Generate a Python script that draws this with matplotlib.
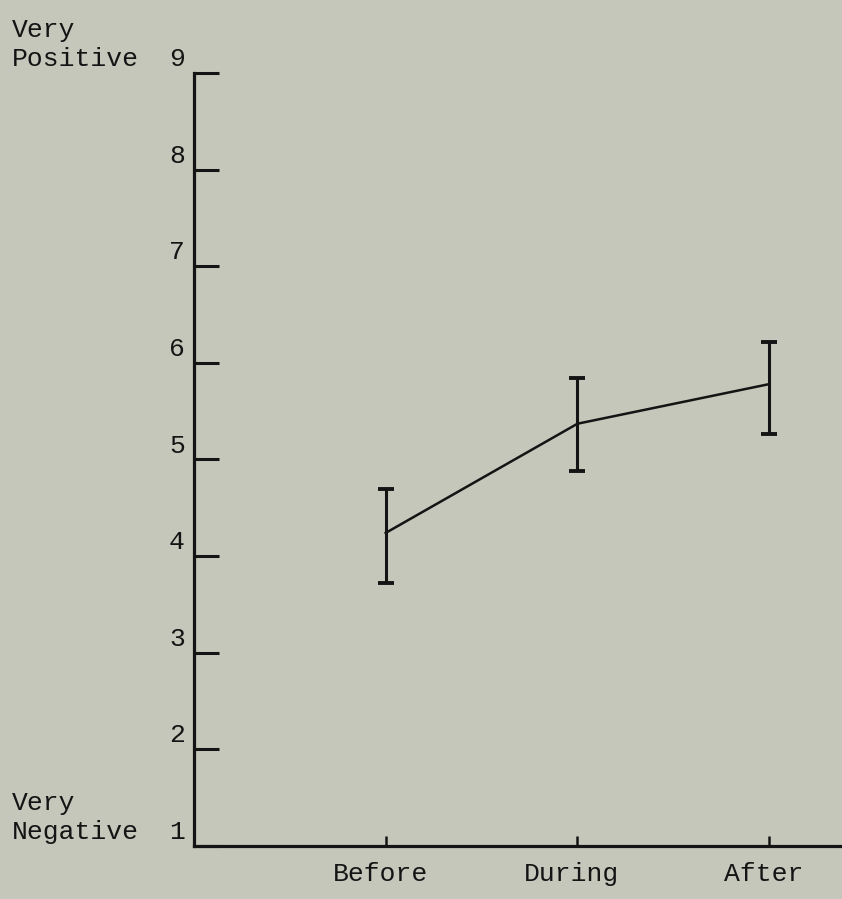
import numpy as np
import matplotlib.pyplot as plt

# ratings at three points in time
phases = ['Before', 'During', 'After']
means = [4.24, 5.37, 5.78]
upper = [4.69, 5.84, 6.22]
lower = [3.72, 4.88, 5.26]
scale_ticks = [1, 2, 3, 4, 5, 6, 7, 8, 9]

bg = '#c5c7bb'
ink = '#141414'
font = ['Liberation Mono', 'DejaVu Sans Mono']
plt.rcParams['font.family'] = font

fig = plt.figure(figsize=(8.42, 8.99), dpi=100, facecolor=bg)
ax = fig.add_axes([0.2304, 0.059, 0.7696, 0.8598])
ax.set_facecolor(bg)

x = np.arange(1, len(phases) + 1)
m = np.array(means)
yerr = [m - np.array(lower), np.array(upper) - m]
ax.errorbar(x, m, yerr=yerr, color=ink, lw=1.8, elinewidth=2.2,
            capsize=6, capthick=2.8, zorder=3)

ax.set_xlim(0, 3.38)
ax.set_ylim(1, 9)

for s in ['top', 'right']:
    ax.spines[s].set_visible(False)
for s in ['left', 'bottom']:
    ax.spines[s].set_linewidth(2.3)
    ax.spines[s].set_color(ink)
    ax.spines[s].set_capstyle('projecting')

ax.set_yticks(scale_ticks)
ax.set_yticklabels([])
ax.tick_params(axis='y', direction='in', length=18, width=2.2, color=ink)
ax.set_xticks(x)
ax.set_xticklabels([])
ax.tick_params(axis='x', direction='in', length=7, width=1.8, color=ink)

# scale numbers sit just above their ticks
for v in scale_ticks:
    ax.annotate(str(v), xy=(0, v), xycoords=('axes fraction', 'data'),
                xytext=(-6.5, 5), textcoords='offset points',
                ha='right', va='baseline', fontsize=19, color=ink)

for v, words in [(9, 'Very\nPositive'), (1, 'Very\nNegative')]:
    ax.annotate(words, xy=(0.014, v), xycoords=('figure fraction', 'data'),
                xytext=(0, 5), textcoords='offset points',
                ha='left', va='baseline', fontsize=19, color=ink,
                linespacing=1.25, multialignment='left')

for xi, name in zip(x, phases):
    ax.annotate(name, xy=(xi, 1), xycoords='data',
                xytext=(-4, -25), textcoords='offset points',
                ha='center', va='baseline', fontsize=19, color=ink,
                annotation_clip=False)

fig.savefig('out.png', dpi=100, facecolor=bg)
